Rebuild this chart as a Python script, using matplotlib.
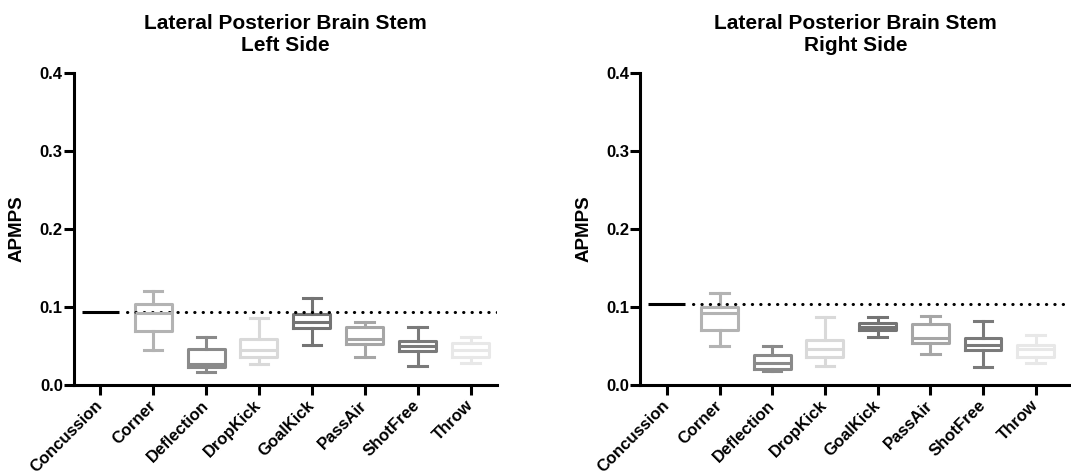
import matplotlib.pyplot as plt

plt.rcParams['font.family'] = ['Liberation Sans', 'DejaVu Sans']
plt.rcParams['font.weight'] = 'bold'

categories = ['Concussion', 'Corner', 'Deflection', 'DropKick', 'GoalKick', 'PassAir', 'ShotFree', 'Throw']
box_colors = ['#b3b3b3', '#8a8a8a', '#d9d9d9', '#747474', '#a6a6a6', '#7a7a7a', '#e8e8e8']

# concussion reference value per side
conc_left = 0.094
conc_right = 0.1035

# box stats for Corner..Throw: whisker low, q1, median, q3, whisker high
left_low = [0.045, 0.0167, 0.0265, 0.051, 0.0355, 0.0248, 0.0286]
left_q1 = [0.069, 0.0227, 0.0355, 0.0726, 0.0526, 0.0436, 0.0355]
left_med = [0.092, 0.0265, 0.045, 0.081, 0.0586, 0.050, 0.045]
left_q3 = [0.1035, 0.0457, 0.0586, 0.0906, 0.074, 0.0564, 0.0534]
left_high = [0.121, 0.061, 0.0855, 0.111, 0.081, 0.074, 0.061]

right_low = [0.050, 0.018, 0.0248, 0.062, 0.0397, 0.0227, 0.0286]
right_q1 = [0.0705, 0.0205, 0.0355, 0.0705, 0.0543, 0.0449, 0.0355]
right_med = [0.0927, 0.0286, 0.0457, 0.0748, 0.0598, 0.0513, 0.0457]
right_q3 = [0.0996, 0.0385, 0.0577, 0.079, 0.0778, 0.0607, 0.0513]
right_high = [0.1175, 0.0504, 0.0876, 0.0876, 0.0885, 0.082, 0.064]


def panel(ax, title, conc, low, q1, med, q3, high, xmax):
    lw = 2.2
    for i in range(len(low)):
        st = [{'whislo': low[i], 'q1': q1[i], 'med': med[i], 'q3': q3[i],
               'whishi': high[i], 'fliers': []}]
        c = box_colors[i]
        ax.bxp(st, positions=[i + 1], widths=0.7, showfliers=False,
               boxprops=dict(color=c, linewidth=lw),
               medianprops=dict(color=c, linewidth=lw),
               whiskerprops=dict(color=c, linewidth=lw),
               capprops=dict(color=c, linewidth=lw), capwidths=0.35)
    ax.hlines(conc, -0.35, 0.35, color='black', linewidth=2.2)
    ax.plot([0.5, xmax], [conc, conc], color='black', linewidth=2.2,
            linestyle=(0, (0.1, 2.65)), dash_capstyle='round')
    ax.set_xlim(-0.5, xmax)
    ax.set_ylim(0, 0.4)
    ax.set_yticks([0.0, 0.1, 0.2, 0.3, 0.4])
    ax.set_yticklabels(['0.0', '0.1', '0.2', '0.3', '0.4'], fontsize=12, fontweight='bold')
    ax.set_xticks(range(len(categories)))
    ax.set_xticklabels(categories, rotation=45, ha='right', va='center',
                       rotation_mode='anchor', fontsize=12, fontweight='bold')
    ax.set_ylabel('APMPS', fontsize=13.5, fontweight='bold', labelpad=10)
    ax.set_title(title, fontsize=15, fontweight='bold', pad=16)
    for s in ['top', 'right']:
        ax.spines[s].set_visible(False)
    for s in ['left', 'bottom']:
        ax.spines[s].set_linewidth(2.2)
    ax.tick_params(width=2.2, length=7, direction='out', pad=1)
    ax.tick_params(axis='x', pad=6)


fig = plt.figure(figsize=(10.71, 4.73), dpi=100)
ax1 = fig.add_axes([0.069, 0.186, 0.395, 0.66])
ax2 = fig.add_axes([0.598, 0.186, 0.402, 0.66])
panel(ax1, 'Lateral Posterior Brain Stem\nLeft Side', conc_left,
      left_low, left_q1, left_med, left_q3, left_high, 7.5)
panel(ax2, 'Lateral Posterior Brain Stem\nRight Side', conc_right,
      right_low, right_q1, right_med, right_q3, right_high, 7.67)

fig.savefig('out.png', dpi=100)
